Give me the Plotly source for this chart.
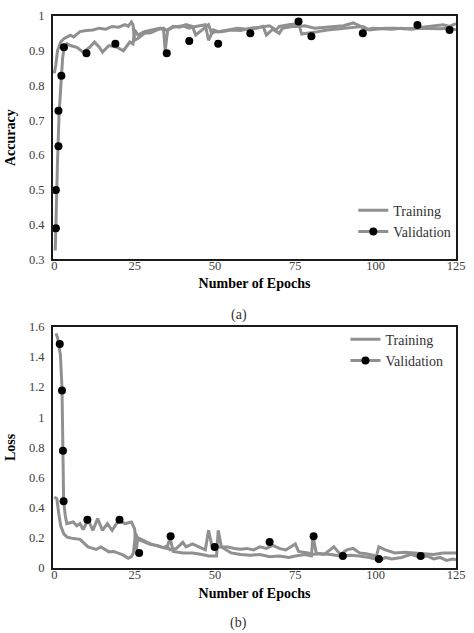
import plotly.graph_objects as go

# ---------------- data: (a) accuracy ----------------
acc_train_x = [0, 0.5, 1, 2, 3, 5, 6, 8, 10, 12, 14, 16, 18, 20, 22, 23, 24, 24.5, 25, 26, 28, 30, 32, 34, 35,
               37, 39, 41, 43, 44, 46, 48, 49, 50, 52, 55, 58, 61, 64, 67, 69, 70, 73, 76, 77, 79, 82, 85,
               88, 91, 94, 96, 98, 100, 103, 106, 109, 112, 115, 118, 121, 123, 125]
acc_train_y = [0.835, 0.86, 0.90, 0.925, 0.935, 0.945, 0.94, 0.955, 0.958, 0.96, 0.965, 0.962, 0.97, 0.968,
               0.975, 0.97, 0.983, 0.975, 0.93, 0.935, 0.95, 0.952, 0.96, 0.965, 0.958, 0.97, 0.968, 0.975,
               0.97, 0.945, 0.96, 0.975, 0.95, 0.955, 0.955, 0.96, 0.958, 0.965, 0.968, 0.972, 0.96, 0.97,
               0.975, 0.978, 0.948, 0.95, 0.955, 0.96, 0.962, 0.965, 0.968, 0.97, 0.96, 0.962, 0.965, 0.965,
               0.963, 0.965, 0.968, 0.97, 0.975, 0.97, 0.978]

acc_val_x = [0.3, 0.6, 1, 1.5, 2, 2.6, 3, 4, 5, 7, 9, 11, 12.5, 14, 15, 17, 19.5, 21.5, 23.5, 24.5, 25, 26, 28,
             31, 33, 34, 34.5, 35.3, 37, 40, 42, 44, 47, 48, 49.5, 51, 54, 57, 60, 63, 65, 66, 68, 70, 71,
             74, 76, 78, 81, 84, 87, 90, 93, 95, 97, 99, 102, 105, 108, 111, 114, 117, 120, 123, 125]
acc_val_y = [0.325, 0.45, 0.58, 0.72, 0.80, 0.88, 0.905, 0.92, 0.915, 0.91, 0.896, 0.91, 0.925, 0.91, 0.896,
             0.915, 0.91, 0.90, 0.925, 0.92, 0.96, 0.945, 0.955, 0.96, 0.965, 0.96, 0.90, 0.96, 0.968, 0.972,
             0.965, 0.97, 0.975, 0.93, 0.96, 0.955, 0.96, 0.965, 0.962, 0.965, 0.97, 0.945, 0.962, 0.95,
             0.965, 0.97, 0.97, 0.972, 0.965, 0.968, 0.97, 0.972, 0.98, 0.972, 0.96, 0.965, 0.963, 0.962,
             0.965, 0.962, 0.965, 0.963, 0.963, 0.965, 0.96]

acc_mark_x = [0.5, 0.5, 1.3, 1.3, 2.2, 3, 10, 19, 35, 42, 51, 61, 76, 80, 96, 113, 123]
acc_mark_y = [0.389, 0.499, 0.625, 0.727, 0.828, 0.91, 0.893, 0.92, 0.893, 0.928, 0.92, 0.95, 0.984,
              0.942, 0.95, 0.974, 0.96]

# ---------------- data: (b) loss ----------------
loss_train_x = [0, 0.8, 1.4, 2, 3, 4, 6, 8, 9, 10.5, 12, 13, 14.5, 15.5, 17, 18.5, 20, 21.5, 23, 24, 24.6,
                25.3, 26, 28, 30, 32, 34, 35, 36, 38, 40, 41, 43, 45, 47, 48, 49, 51, 54, 56, 58, 60, 62,
                64, 66, 68, 70, 72, 75, 76, 79, 80, 83, 86, 89, 92, 95, 98, 100, 101, 103, 106, 109, 112,
                115, 118, 121, 125]
loss_train_y = [0.47, 0.46, 0.36, 0.28, 0.225, 0.205, 0.195, 0.19, 0.17, 0.14, 0.13, 0.123, 0.14, 0.125,
                0.107, 0.11, 0.097, 0.085, 0.064, 0.075, 0.097, 0.23, 0.19, 0.17, 0.155, 0.15, 0.135, 0.145,
                0.12, 0.13, 0.17, 0.14, 0.16, 0.14, 0.12, 0.25, 0.15, 0.14, 0.14, 0.13, 0.125, 0.13, 0.12,
                0.14, 0.13, 0.15, 0.13, 0.12, 0.16, 0.11, 0.10, 0.09, 0.095, 0.09, 0.08, 0.085, 0.08, 0.07,
                0.06, 0.14, 0.12, 0.10, 0.105, 0.10, 0.095, 0.09, 0.10, 0.10]

loss_val_x = [0.5, 1, 1.9, 2.4, 2.7, 2.9, 3.4, 3.9, 5, 5.9, 7, 8, 9, 10.5, 12, 13.5, 15, 16.5, 18, 20, 22,
              24, 25, 25.5, 26, 28, 30, 33, 35, 36, 37, 40, 43, 46, 48, 50.5, 51, 52, 55, 58, 61, 64, 67,
              70, 73, 75, 78, 80, 80.5, 81.5, 84, 87, 89, 91, 93, 95, 97, 100, 101, 103, 105, 108, 111,
              114, 116, 118, 120, 122, 124, 125]
loss_val_y = [1.556, 1.53, 1.415, 1.19, 0.757, 0.448, 0.35, 0.294, 0.30, 0.305, 0.28, 0.294, 0.255, 0.32,
              0.25, 0.327, 0.25, 0.294, 0.25, 0.316, 0.294, 0.305, 0.26, 0.118, 0.20, 0.18, 0.16, 0.14,
              0.13, 0.20, 0.11, 0.10, 0.10, 0.09, 0.08, 0.08, 0.25, 0.14, 0.10, 0.09, 0.085, 0.09, 0.075,
              0.08, 0.07, 0.08, 0.09, 0.08, 0.21, 0.10, 0.09, 0.14, 0.09, 0.12, 0.13, 0.10, 0.095, 0.08,
              0.045, 0.07, 0.06, 0.07, 0.09, 0.07, 0.08, 0.06, 0.07, 0.05, 0.06, 0.055]

loss_mark_x = [1.7, 2.4, 2.7, 2.9, 10.3, 20.3, 26.4, 36.2, 49.9, 67, 80.7, 89.8, 101, 114]
loss_mark_y = [1.486, 1.178, 0.777, 0.443, 0.32, 0.32, 0.10, 0.21, 0.14, 0.173, 0.21, 0.079, 0.059, 0.079]

x_ticks = [0, 25, 50, 75, 100, 125]

# ---------------- styling ----------------
GRAY = "#909090"
FONT = "'Liberation Serif', 'Times New Roman', Times, serif"
LW = 3

W, H = 474, 633
PL, PR, PT, PB = 53, 465, 12, 568       # plot block edges in page pixels
ML, MT = PL, PT
MR = W - PR
MB = H - PB
PW, PH = W - ML - MR, H - MT - MB


def py(page_y):
    return (PB - page_y) / PH


def px(page_x):
    return (page_x - PL) / PW


fig = go.Figure()


def add_panel(xa, ya, leg, tx, ty, vx, vy, mx, my):
    fig.add_trace(go.Scatter(x=tx, y=ty, mode="lines", line=dict(color=GRAY, width=LW),
                             xaxis=xa, yaxis=ya, showlegend=False, hoverinfo="skip"))
    fig.add_trace(go.Scatter(x=vx, y=vy, mode="lines", line=dict(color=GRAY, width=LW),
                             xaxis=xa, yaxis=ya, showlegend=False, hoverinfo="skip"))
    fig.add_trace(go.Scatter(x=mx, y=my, mode="markers", marker=dict(color="black", size=8),
                             xaxis=xa, yaxis=ya, showlegend=False))
    fig.add_trace(go.Scatter(x=[None], y=[None], mode="lines", name="Training",
                             line=dict(color=GRAY, width=LW), xaxis=xa, yaxis=ya, legend=leg))
    fig.add_trace(go.Scatter(x=[None], y=[None], mode="lines+markers", name="Validation",
                             line=dict(color=GRAY, width=LW), marker=dict(color="black", size=8),
                             xaxis=xa, yaxis=ya, legend=leg))


add_panel("x", "y", "legend", acc_train_x, acc_train_y, acc_val_x, acc_val_y, acc_mark_x, acc_mark_y)
add_panel("x2", "y2", "legend2", loss_train_x, loss_train_y, loss_val_x, loss_val_y, loss_mark_x, loss_mark_y)

axis_common = dict(showline=True, linecolor="#1a1a1a", linewidth=2, mirror=True, showgrid=False,
                   zeroline=False, ticks="", ticklabeloverflow="allow",
                   tickfont=dict(family=FONT, size=12.5, color="#404040"))
title_font = dict(family=FONT, size=14, color="black", weight="bold")
legend_font = dict(family=FONT, size=14, color="#333333")

fig.update_layout(
    width=W, height=H,
    margin=dict(l=ML, r=MR, t=MT, b=MB),
    paper_bgcolor="white", plot_bgcolor="white",
    font=dict(family=FONT, size=13, color="#333333"),
    xaxis=dict(domain=[0, 1], anchor="y", range=[-0.4, 125], tickvals=x_ticks, ticklabelstandoff=-6,
               title=dict(text="Number of Epochs", font=title_font, standoff=6), **axis_common),
    yaxis=dict(domain=[py(257), 1], anchor="x", range=[0.3, 1], dtick=0.1, ticklabelstandoff=4,
               title=dict(text="Accuracy", font=title_font, standoff=10), **axis_common),
    xaxis2=dict(domain=[0, 1], anchor="y2", range=[-0.4, 125], tickvals=x_ticks, ticklabelstandoff=-6,
                title=dict(text="Number of Epochs", font=title_font, standoff=7), **axis_common),
    yaxis2=dict(domain=[0, py(325)], anchor="x2", range=[0, 1.6], dtick=0.2, ticklabelstandoff=4,
                title=dict(text="Loss", font=title_font, standoff=10), **axis_common),
    legend=dict(x=px(360), y=py(192), xanchor="left", yanchor="top",
                bgcolor="rgba(0,0,0,0)", font=legend_font, itemwidth=30, tracegroupgap=0),
    legend2=dict(x=px(352), y=py(322), xanchor="left", yanchor="top",
                 bgcolor="rgba(0,0,0,0)", font=legend_font, itemwidth=30, tracegroupgap=0),
)

cap_x = px(243)
fig.add_annotation(text="(a)", x=cap_x, y=py(313), xref="paper", yref="paper", showarrow=False,
                   yanchor="middle", font=dict(family=FONT, size=14, color="#333333"))
fig.add_annotation(text="(b)", x=cap_x, y=py(623), xref="paper", yref="paper", showarrow=False,
                   yanchor="middle", font=dict(family=FONT, size=14, color="#333333"))

# remove the default 8px page margin so the figure fills the window exactly
fig.write_html("out.html", config={"displayModeBar": False},
               post_script="document.body.style.margin='0';document.body.style.overflow='hidden';")
